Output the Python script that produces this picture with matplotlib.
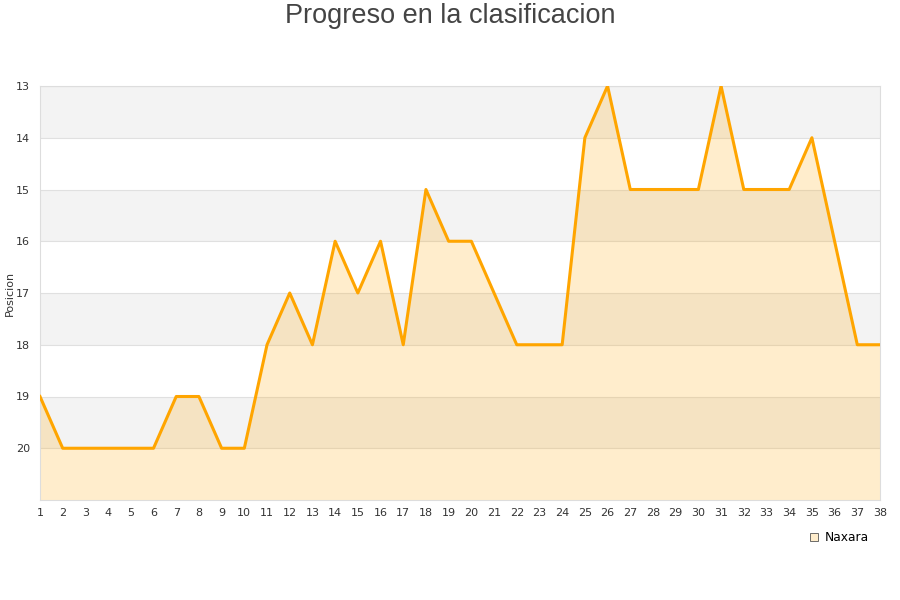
import matplotlib.pyplot as plt

# Jornadas y posiciones
jornadas = list(range(1, 39))
posiciones = [19, 20, 20, 20, 20, 20, 19, 19, 20, 20,
              18, 17, 18, 16, 17, 16, 18, 15, 16, 16,
              17, 18, 18, 18, 14, 13, 15, 15, 15, 15,
              13, 15, 15, 15, 14, 16, 18, 18]
equipo = "Naxara"

fig = plt.figure(figsize=(9, 6), dpi=100)
ax = fig.add_axes([40 / 900, 100 / 600, 840 / 900, 414 / 600])

# Bandas alternas
for y0 in range(13, 21):
    if (y0 - 13) % 2 == 0:
        ax.axhspan(y0, y0 + 1, color="#f3f3f3", zorder=0, lw=0)
    ax.axhline(y0, color="#e0e0e0", lw=0.8, zorder=1)

ax.fill_between(jornadas, posiciones, 21, color="#ffa500", alpha=0.2, lw=0, zorder=2)
ax.plot(jornadas, posiciones, color="#ffa500", lw=2.2, zorder=3)
ax.plot([], [], ls="", marker="s", markersize=6, markerfacecolor="#ffedcc",
        markeredgecolor="#555555", markeredgewidth=0.6, label=equipo)

ax.set_xlim(1, 38)
ax.set_ylim(21, 13)
ax.set_xticks(jornadas)
ax.set_yticks(range(13, 21))
ax.tick_params(axis="both", length=0, labelsize=8, colors="#333333")
ax.tick_params(axis="y", pad=7)
ax.tick_params(axis="x", pad=6)
for s in ax.spines.values():
    s.set_color("#dddddd")
    s.set_linewidth(0.8)

fig.text(10 / 900, 1 - 293 / 600, "Posicion", rotation=90, ha="center", va="center",
         fontsize=8, color="#333333")
fig.text(0.5, 1 - 16 / 600, "Progreso en la clasificacion", ha="center", va="center",
         fontsize=19.5, color="#444444", family="Liberation Sans")

ax.legend(loc="upper left", bbox_to_anchor=(763 / 840, -0.063), frameon=False,
          fontsize=8.8, handletextpad=0.4, borderaxespad=0, handlelength=1)

fig.savefig("out.png", dpi=100)
